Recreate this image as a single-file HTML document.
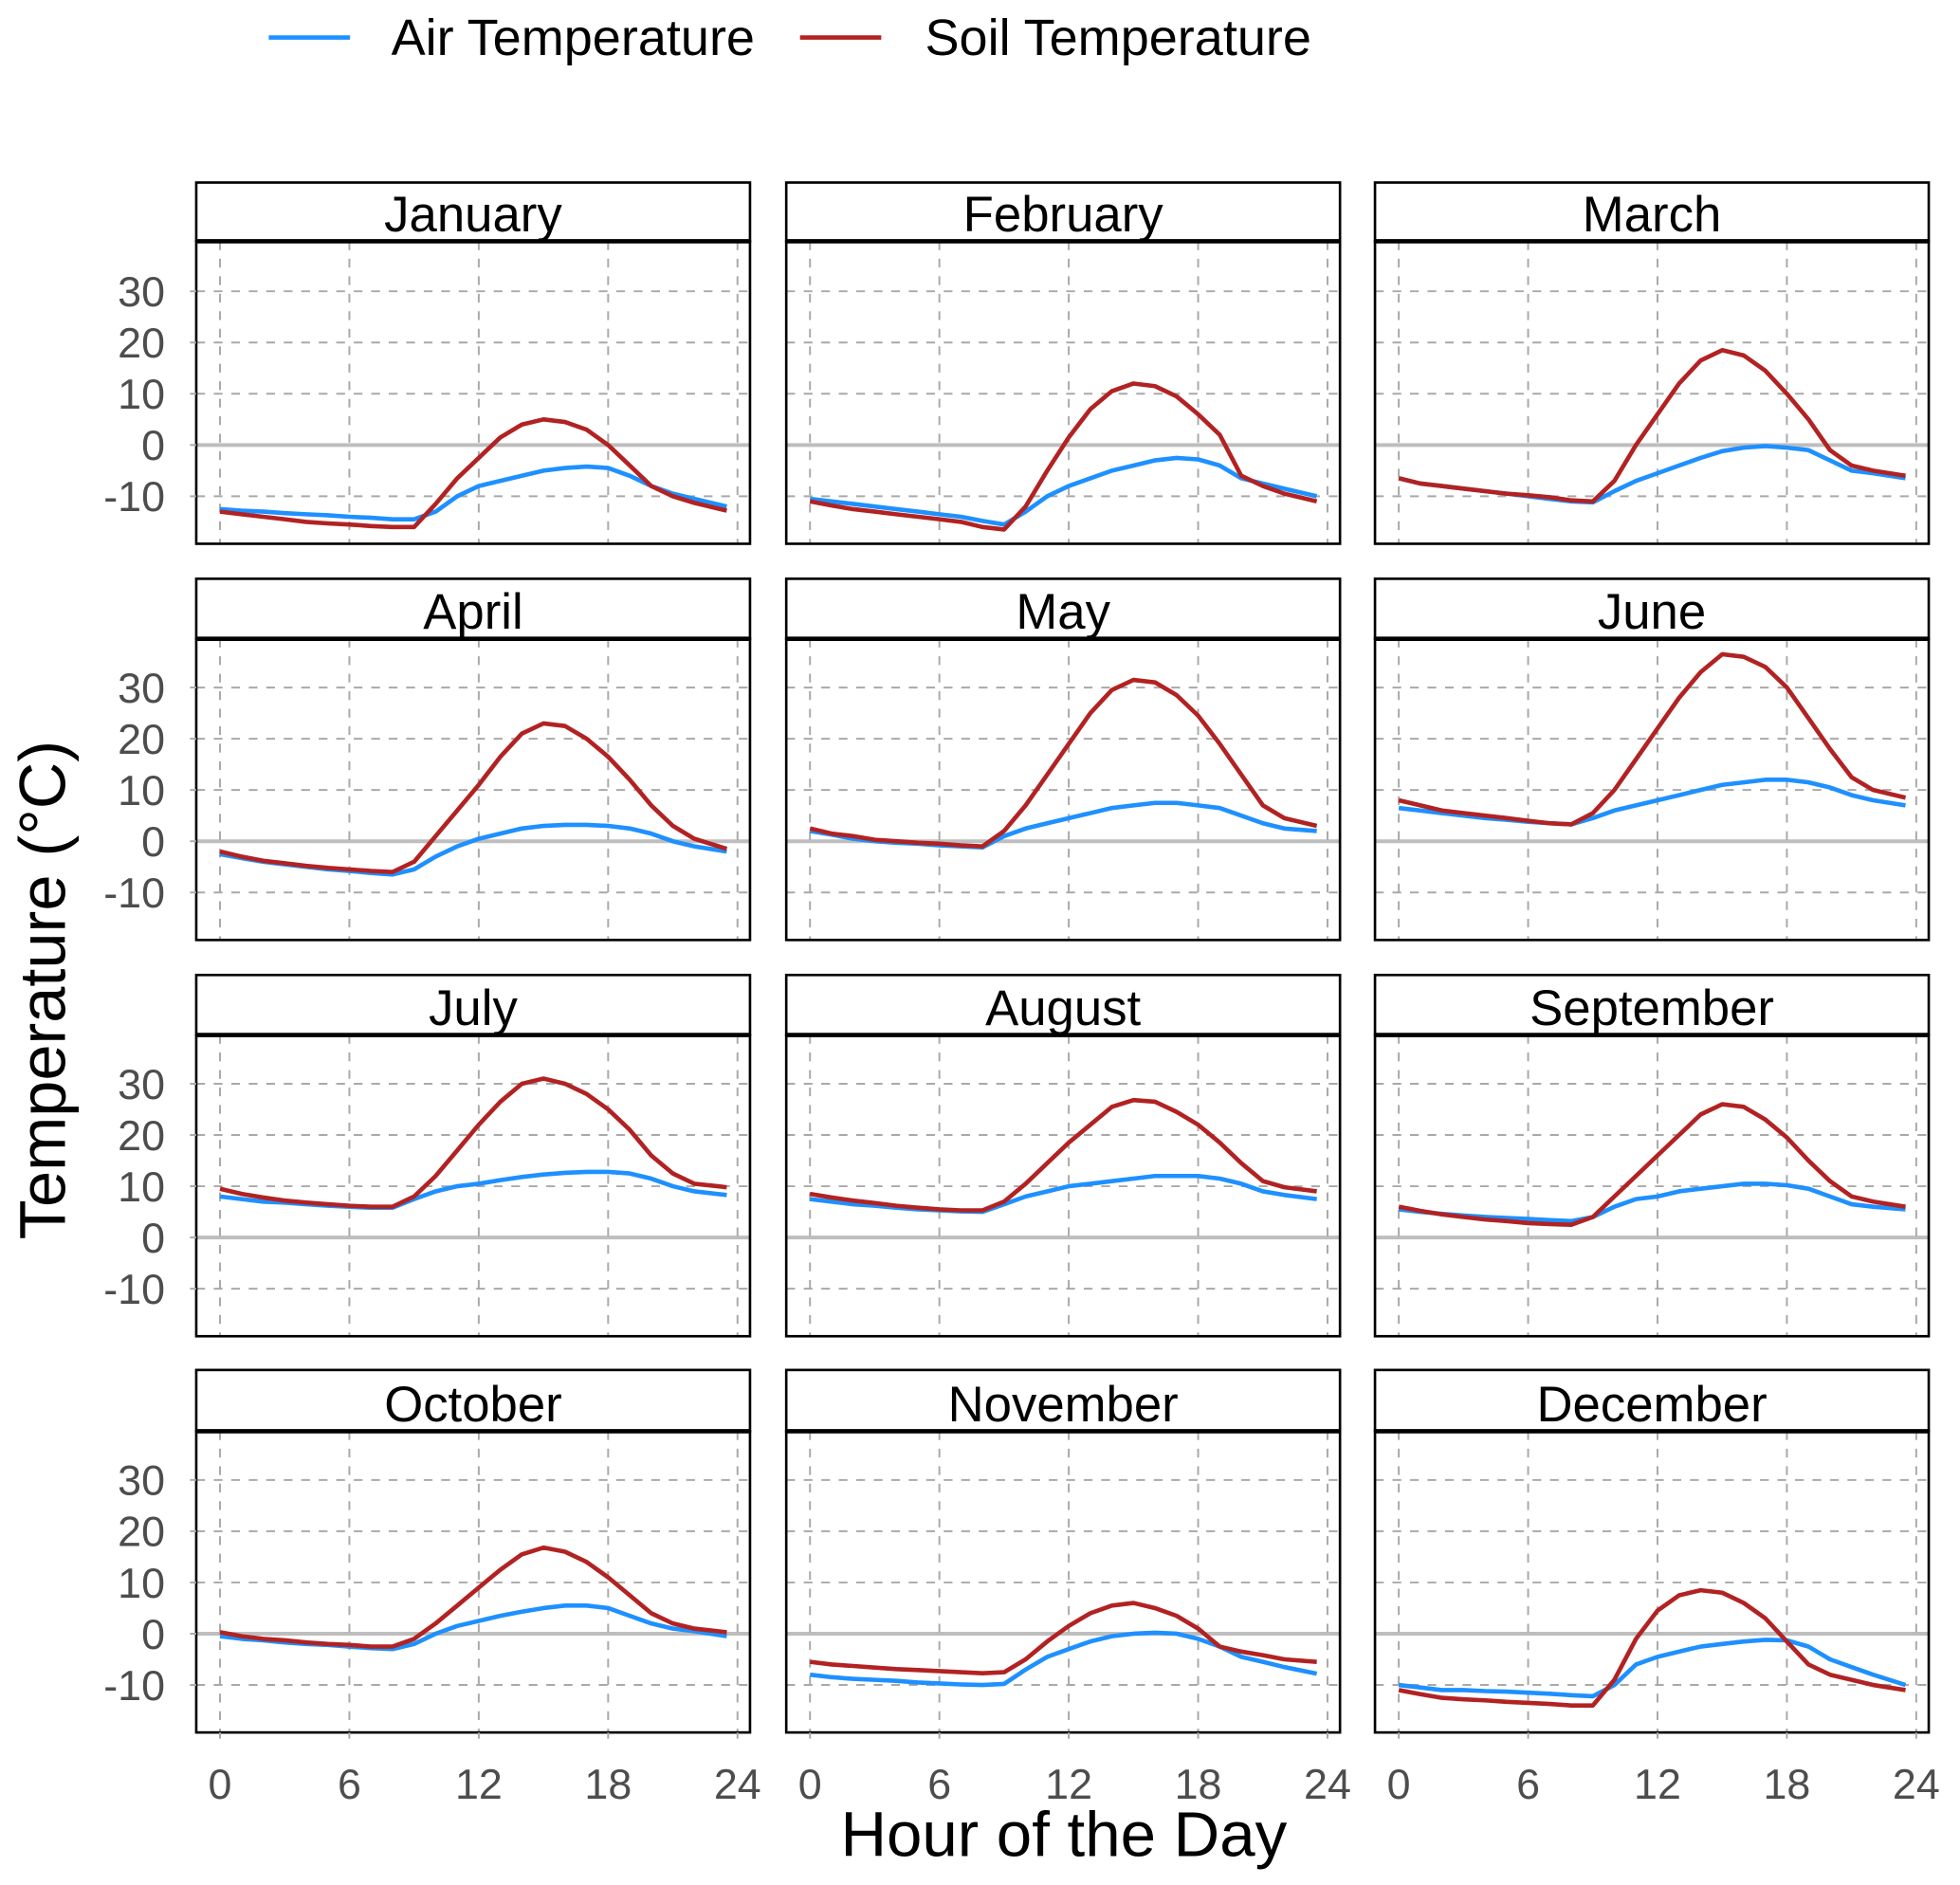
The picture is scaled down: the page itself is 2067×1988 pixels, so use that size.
<!DOCTYPE html>
<html><head><meta charset="utf-8"><style>
html,body{margin:0;padding:0;background:#fff}
svg{display:block}
text{font-family:"Liberation Sans",Arial,sans-serif}
</style></head><body>
<svg id="chart" width="2067" height="1988" viewBox="0 0 1568 1508" xmlns="http://www.w3.org/2000/svg">
<rect width="1568" height="1508" fill="#fff"/>
<g>
 <g>
  <line x1="215" y1="30" x2="280" y2="30" stroke="#1e90ff" stroke-width="3.5"/>
  <text x="313" y="44" font-size="41" fill="#000">Air Temperature</text>
 </g>
 <g>
  <line x1="640" y1="30" x2="705" y2="30" stroke="#b22222" stroke-width="3.5"/>
  <text x="740" y="44" font-size="41" fill="#000">Soil Temperature</text>
 </g>
</g>
<text transform="translate(52,792) rotate(-90)" text-anchor="middle" font-size="52" fill="#000">Temperature (°C)</text>
<text x="851" y="1485" text-anchor="middle" font-size="51" fill="#000">Hour of the Day</text>
<g id="panels"></g>
</svg>
<script>
const months = ["January","February","March","April","May","June","July","August","September","October","November","December"];
const hours = [0,1,2,3,4,5,6,7,8,9,10,11,12,13,14,15,16,17,18,19,20,21,22,23.5];
const xTicks = [0,6,12,18,24];
const yTicks = [-10,0,10,20,30];
const airJan=[-12.5,-12.8,-13,-13.3,-13.5,-13.7,-14,-14.2,-14.5,-14.5,-13,-10,-8,-7,-6,-5,-4.5,-4.2,-4.5,-6,-8,-9.5,-10.5,-12];
const soilJan=[-13,-13.5,-14,-14.5,-15,-15.3,-15.5,-15.8,-16,-16,-11.5,-6.5,-2.5,1.5,4,5,4.5,3,0,-4,-8,-10,-11.3,-12.8];
const airFeb=[-10.5,-11,-11.5,-12,-12.5,-13,-13.5,-14,-14.8,-15.5,-13,-10,-8,-6.5,-5,-4,-3,-2.5,-2.8,-4,-6.5,-7.5,-8.5,-10];
const soilFeb=[-11,-11.8,-12.5,-13,-13.5,-14,-14.5,-15,-16,-16.5,-12,-5,1.5,7,10.5,12,11.5,9.5,6,2,-6,-8,-9.5,-11];
const airMar=[-6.5,-7.5,-8,-8.5,-9,-9.5,-10,-10.5,-11,-11.2,-9,-7,-5.5,-4,-2.5,-1.2,-0.5,-0.2,-0.5,-1,-3,-5,-5.5,-6.5];
const soilMar=[-6.5,-7.5,-8,-8.5,-9,-9.5,-9.8,-10.2,-10.8,-11,-7,0,6,12,16.5,18.5,17.5,14.5,10,5,-1,-4,-5,-6];
const airApr=[-2.5,-3.3,-4,-4.5,-5,-5.5,-5.8,-6.2,-6.5,-5.5,-3,-1,0.5,1.5,2.5,3,3.2,3.2,3,2.5,1.5,0,-1,-2];
const soilApr=[-2,-3,-3.8,-4.3,-4.8,-5.2,-5.5,-5.8,-6,-4,1,6,11,16.5,21,23,22.5,20,16.5,12,7,3,0.5,-1.5];
const airMay=[2,1.3,0.5,0,-0.3,-0.5,-0.8,-1,-1.2,1,2.5,3.5,4.5,5.5,6.5,7,7.5,7.5,7,6.5,5,3.5,2.5,2];
const soilMay=[2.5,1.5,1,0.3,0,-0.3,-0.5,-0.8,-1,2,7,13,19,25,29.5,31.5,31,28.5,24.5,19,13,7,4.5,3];
const airJun=[6.5,6,5.5,5,4.5,4.2,3.8,3.5,3.3,4.5,6,7,8,9,10,11,11.5,12,12,11.5,10.5,9,8,7];
const soilJun=[8,7,6,5.5,5,4.5,4,3.5,3.3,5.5,10,16,22,28,33,36.5,36,34,30,24,18,12.5,10,8.5];
const airJul=[8,7.5,7,6.8,6.5,6.2,6,5.8,5.8,7.5,9,10,10.5,11.2,11.8,12.3,12.6,12.8,12.8,12.5,11.5,10,9,8.3];
const soilJul=[9.5,8.5,7.8,7.2,6.8,6.5,6.2,6,6,8,12,17,22,26.5,30,31,30,28,25,21,16,12.5,10.5,9.8];
const airAug=[7.5,7,6.5,6.2,5.8,5.5,5.3,5.1,5,6.5,8,9,10,10.5,11,11.5,12,12,12,11.5,10.5,9,8.3,7.5];
const soilAug=[8.5,7.8,7.2,6.7,6.2,5.8,5.5,5.3,5.3,7,10.5,14.5,18.5,22,25.5,26.8,26.5,24.5,22,18.5,14.5,11,9.8,9];
const airSep=[5.5,5,4.6,4.3,4,3.8,3.6,3.4,3.2,4,6,7.5,8,9,9.5,10,10.5,10.5,10.2,9.5,8,6.5,6,5.5];
const soilSep=[6,5.2,4.5,4,3.5,3.2,2.8,2.6,2.5,4,8,12,16,20,24,26,25.5,23,19.5,15,11,8,7,6];
const airOct=[-0.5,-1,-1.3,-1.7,-2,-2.2,-2.5,-2.8,-3,-2,0,1.5,2.5,3.5,4.3,5,5.5,5.5,5,3.5,2,1,0.5,-0.5];
const soilOct=[0.3,-0.5,-1,-1.3,-1.7,-2,-2.2,-2.5,-2.5,-1,2,5.5,9,12.5,15.5,16.8,16,14,11,7.5,4,2,1,0.3];
const airNov=[-8,-8.5,-8.8,-9,-9.2,-9.5,-9.7,-9.9,-10,-9.8,-7,-4.5,-3,-1.5,-0.5,0,0.2,0,-1,-2.5,-4.5,-5.5,-6.5,-7.8];
const soilNov=[-5.5,-6,-6.3,-6.6,-6.9,-7.1,-7.3,-7.5,-7.7,-7.5,-5,-1.5,1.5,4,5.5,6,5,3.5,1,-2.5,-3.5,-4.2,-5,-5.5];
const airDec=[-10,-10.5,-11,-11,-11.2,-11.3,-11.5,-11.7,-12,-12.2,-10,-6,-4.5,-3.5,-2.5,-2,-1.5,-1.2,-1.3,-2.5,-5,-6.5,-8,-10];
const soilDec=[-11,-11.8,-12.5,-12.8,-13,-13.3,-13.5,-13.7,-14,-14,-9,-1,4.5,7.5,8.5,8,6,3,-1.5,-6,-8,-9,-10,-11];
const airSeries=[airJan,airFeb,airMar,airApr,airMay,airJun,airJul,airAug,airSep,airOct,airNov,airDec];
const soilSeries=[soilJan,soilFeb,soilMar,soilApr,soilMay,soilJun,soilJul,soilAug,soilSep,soilOct,soilNov,soilDec];

const NS="http://www.w3.org/2000/svg";
const root=document.getElementById('panels');
function mk(tag,attrs,parent){const e=document.createElementNS(NS,tag);for(const k in attrs)e.setAttribute(k,attrs[k]);parent.appendChild(e);return e;}
const colL=[157,629,1100], W=443;
const stripT=[146,463,780,1096], plotT=[193,511,828,1145], plotB=[435,752,1069,1386];
const zeroY=[356,673,990,1307];
months.forEach((m,i)=>{
  const c=i%3, r=Math.floor(i/3);
  const L=colL[c], R=L+W, T=plotT[r], B=plotB[r];
  const xs=h=>L+19+h*(414/24);
  const ys=v=>zeroY[r]-v*4.1;
  const g=mk('g',{},root);
  
  
  yTicks.forEach(t=>{
    const ln=mk('line',{x1:L,x2:R,y1:ys(t),y2:ys(t),stroke:t===0?'#bebebe':'#a9a9a9','stroke-width':t===0?3:1.5,'stroke-dasharray':t===0?'':'7,7'},g);
    
    
  });
  xTicks.forEach(t=>{
    const ln=mk('line',{x1:xs(t),x2:xs(t),y1:T,y2:B,stroke:'#a9a9a9','stroke-width':1.5,'stroke-dasharray':'7,7'},g);
    
    
  });
  const mkPath=(arr,col,name)=>{
    const d=arr.map((v,k)=>(k?'L':'M')+xs(hours[k]).toFixed(1)+','+ys(v).toFixed(1)).join('');
    const p=mk('path',{d:d,fill:'none',stroke:col,'stroke-width':3.5,'stroke-linejoin':'round'},g);
    
    
  };
  mkPath(airSeries[i],'#1e90ff','air-line');
  mkPath(soilSeries[i],'#b22222','soil-line');
  const bd=mk('rect',{x:L,y:T,width:W,height:B-T,fill:'none',stroke:'#000','stroke-width':2},g);
  
  
  const st=mk('rect',{x:L,y:stripT[r],width:W,height:T-stripT[r],fill:'#fff',stroke:'#000','stroke-width':2},g);
  
  
  mk('line',{x1:L,x2:R,y1:T,y2:T,stroke:'#000','stroke-width':3.5},g);
  const tt=mk('text',{x:L+W/2,y:T-8,'text-anchor':'middle','font-size':40,fill:'#000'},g);
  tt.textContent=m;
  
  
  if(c===0){
    yTicks.forEach(t=>{
      mk('line',{x1:L-5,x2:L,y1:ys(t),y2:ys(t),stroke:'#a9a9a9','stroke-width':1.5},g);
      const tl=mk('text',{x:L-25,y:ys(t)+12,'text-anchor':'end','font-size':34,fill:'#4d4d4d'},g);
      tl.textContent=String(t);
      
      
    });
  }
  if(r===3){
    xTicks.forEach(t=>{
      mk('line',{x1:xs(t),x2:xs(t),y1:B,y2:B+5,stroke:'#a9a9a9','stroke-width':1.5},g);
      const tl=mk('text',{x:xs(t),y:B+53,'text-anchor':'middle','font-size':34,fill:'#4d4d4d'},g);
      tl.textContent=String(t);
      
      
    });
  }
});
</script>
</body></html>
